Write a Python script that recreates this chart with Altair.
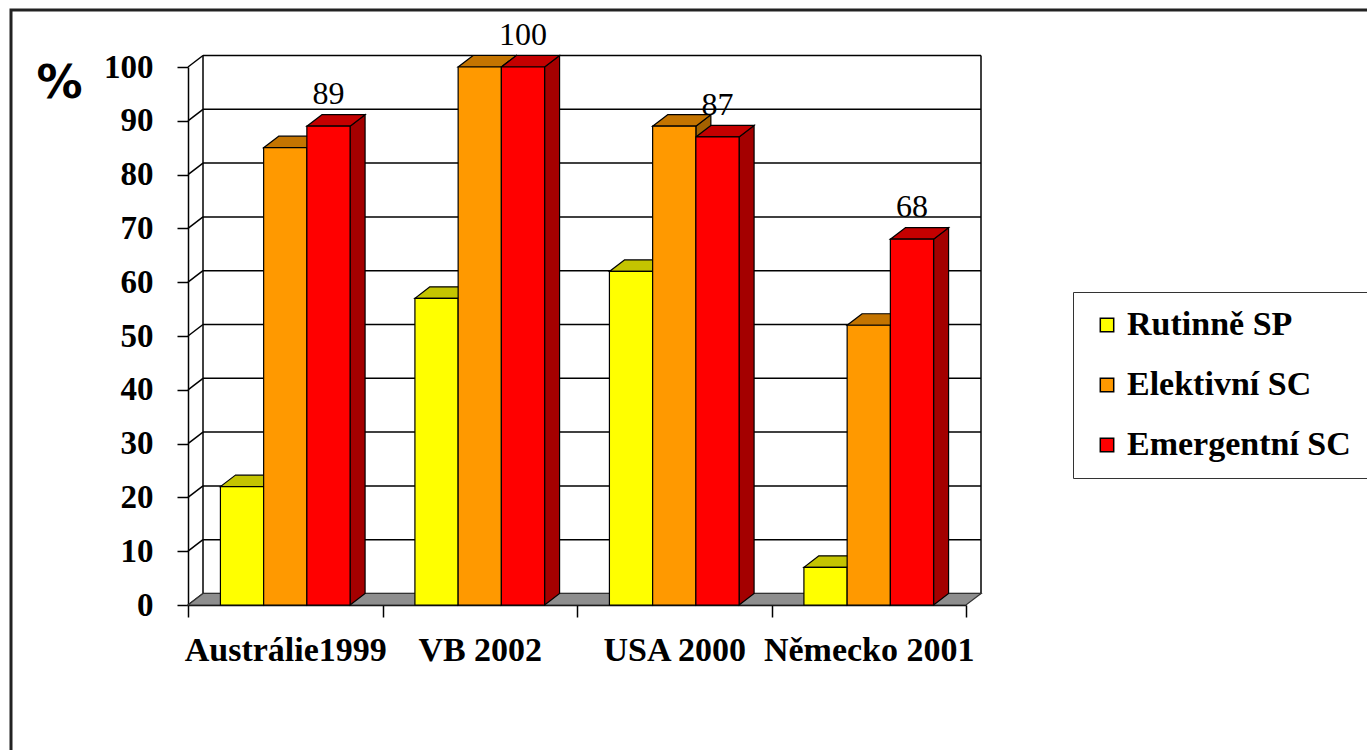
import json

import altair as alt
import pandas as pd

# --- data ---------------------------------------------------------------
categories = ["Austrálie1999", "VB 2002", "USA 2000", "Německo 2001"]
series = ["Rutinně SP", "Elektivní SC", "Emergentní SC"]
rutinne_sp = [22, 57, 62, 7]
elektivni_sc = [85, 100, 89, 52]
emergentni_sc = [89, 100, 87, 68]
y_ticks = [0, 10, 20, 30, 40, 50, 60, 70, 80, 90, 100]

# --- style --------------------------------------------------------------
SERIF = "'Liberation Serif', 'Times New Roman', Times, 'DejaVu Serif', serif"
front_colors = ["#FFFF00", "#FF9900", "#FF0000"]
top_colors = ["#C4C400", "#C47400", "#C40000"]
side_colors = ["#A3A300", "#A36200", "#A40000"]
floor_color = "#8E8E8E"
line_color = "#000000"

W, H = 778, 538                 # plot area (front plane)
DEPTH_X_PX, DEPTH_Y_PX = 15, 11.5
N = len(categories)
DX = DEPTH_X_PX / (W / N)        # depth offset in x data units
DY = DEPTH_Y_PX / (H / 100)      # depth offset in y data units
BAR_W = 2 / 9                    # Excel gap width 150 %
GAP = (1 - len(series) * BAR_W) / 2

values = [rutinne_sp, elektivni_sc, emergentni_sc]

bar_rows, top_rows, side_rows = [], [], []
for i, cat in enumerate(categories):
    for k, s in enumerate(series):
        v = values[k][i]
        x0 = i + GAP + k * BAR_W
        x1 = x0 + BAR_W
        bid = f"{i}-{k}"
        bar_rows.append(dict(bar=bid, cat=cat, series=s, value=v,
                             x0=x0, x1=x1, xc=(x0 + x1) / 2, base=0))
        top_rows += [
            dict(bar=bid, y=v, xl=x0, xr=x1, col=top_colors[k]),
            dict(bar=bid, y=v + DY, xl=x0 + DX, xr=x1 + DX, col=top_colors[k]),
        ]
        side_rows += [
            dict(bar=bid, x=x1, y=v, y2=0, col=side_colors[k]),
            dict(bar=bid, x=x1 + DX, y=v + DY, y2=DY, col=side_colors[k]),
        ]

bars = pd.DataFrame(bar_rows)
tops = pd.DataFrame(top_rows)
sides = pd.DataFrame(side_rows)
labels = bars[bars["series"] == series[-1]]

floor = pd.DataFrame([dict(y=0, xl=0, xr=N), dict(y=DY, xl=DX, xr=N + DX)])
back_grid = pd.DataFrame([dict(y=v + DY, xa=DX, xb=N + DX) for v in y_ticks])
left_wall = pd.DataFrame([dict(xa=0, xb=DX, ya=v, yb=v + DY) for v in y_ticks])
back_edges = pd.DataFrame([dict(x=DX, ya=DY, yb=100 + DY),
                           dict(x=N + DX, ya=DY, yb=100 + DY)])

# --- scales & axes ------------------------------------------------------
x_sc = alt.Scale(domain=[0, N], nice=False, zero=False)
y_sc = alt.Scale(domain=[0, 100], nice=False)

cat_array = json.dumps(categories, ensure_ascii=False)
x_axis = alt.Axis(
    values=[i / 2 for i in range(2 * N + 1)],
    title=None,
    labelExpr=f"datum.value % 1 == 0.5 ? {cat_array}[floor(datum.value)] : ''",
    labelFont=SERIF, labelFontSize=34, labelFontWeight="bold",
    labelColor="black", labelBaseline="alphabetic", labelPadding=43,
    labelOverlap=False, labelFlush=False, labelBound=False, labelLimit=0,
    tickSize=12, tickColor=line_color, tickWidth=1.5,
    tickOpacity={"condition": {"test": "datum.value % 1 != 0", "value": 0}, "value": 1},
    domainColor=line_color, domainWidth=1.5, grid=False,
)
y_axis = alt.Axis(
    values=y_ticks, title="%",
    titleFont="DejaVu Sans", titleFontSize=46, titleFontWeight="bold",
    titleColor="black", titleAngle=0, titleAlign="center",
    titleBaseline="alphabetic", titleX=-129, titleY=30,
    labelFont=SERIF, labelFontSize=33, labelFontWeight="bold",
    labelColor="black", labelPadding=24,
    tickSize=11, tickColor=line_color, tickWidth=1.5,
    domainColor=line_color, domainWidth=1.5, grid=False,
)


def X(field):
    return alt.X(field, type="quantitative", scale=x_sc, axis=x_axis)


def Y(field):
    return alt.Y(field, type="quantitative", scale=y_sc, axis=y_axis)


# --- layers -------------------------------------------------------------
frame = alt.Chart(pd.DataFrame({"f": [0]})).mark_rect(
    fillOpacity=0, stroke="#222222", strokeWidth=3
).encode(x=alt.value(-177), x2=alt.value(1189), y=alt.value(-57), y2=alt.value(693))

grid = alt.Chart(back_grid).mark_rule(color=line_color, strokeWidth=1.5).encode(
    x=X("xa"), x2="xb", y=Y("y")
)
edges = alt.Chart(back_edges).mark_rule(color=line_color, strokeWidth=1.5).encode(
    x=X("x"), y=Y("ya"), y2="yb"
)
wall = alt.Chart(left_wall).mark_rule(color=line_color, strokeWidth=1.5).encode(
    x=X("xa"), x2="xb", y=Y("ya"), y2="yb"
)
floor_layer = alt.Chart(floor).mark_area(
    orient="horizontal", color=floor_color, stroke="#333333", strokeWidth=1.2
).encode(y=Y("y"), x=X("xl"), x2="xr")

side_layer = alt.Chart(sides).mark_area(
    stroke="black", strokeWidth=1.2
).encode(
    x=X("x"), y=Y("y"), y2="y2", detail="bar:N",
    fill=alt.Fill("col:N", scale=None),
)
top_layer = alt.Chart(tops).mark_area(
    orient="horizontal", stroke="black", strokeWidth=1.2
).encode(
    y=Y("y"), x=X("xl"), x2="xr", detail="bar:N",
    fill=alt.Fill("col:N", scale=None),
)
front_layer = alt.Chart(bars).mark_rect(stroke="black", strokeWidth=1.2).encode(
    x=X("x0"), x2="x1", y=Y("value"), y2="base",
    color=alt.Color(
        "series:N",
        scale=alt.Scale(domain=series, range=front_colors),
        legend=alt.Legend(
            title=None, orient="none", legendX=885, legendY=225,
            direction="vertical",
            fillColor="white", strokeColor="#333333", padding=16,
            labelFont=SERIF, labelFontSize=34,
            labelFontWeight="bold", labelColor="black",
            labelOffset=3, labelLimit=0,
            symbolType="square", symbolSize=180, symbolOffset=1,
            symbolStrokeColor="black", symbolStrokeWidth=1.5,
            rowPadding=26,
        ),
    ),
)
label_layer = alt.Chart(labels).mark_text(
    font=SERIF, fontSize=32, color="black",
    baseline="alphabetic", align="center", dy=-22,
).encode(x=X("xc"), y=Y("value"), text="value:Q")

chart = alt.layer(
    frame, grid, edges, wall, floor_layer,
    side_layer, top_layer, front_layer, label_layer,
).properties(
    width=W, height=H,
    padding={"left": 188, "top": 67, "right": 1367 - 188 - W, "bottom": 750 - 67 - H},
    autosize=alt.AutoSizeParams(type="none"),
).configure_view(strokeWidth=0)

chart.save("out.html", embed_options={"renderer": "svg", "actions": False})
